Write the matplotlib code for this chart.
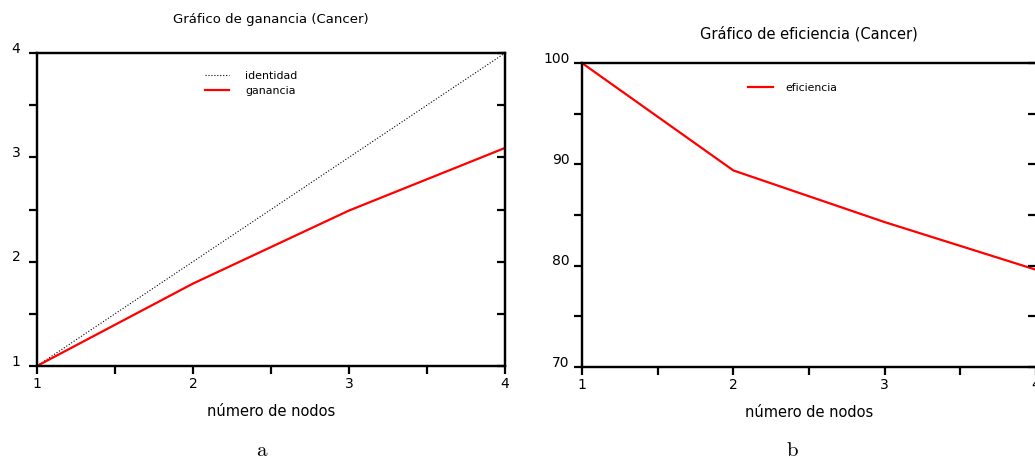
import numpy as np
import matplotlib.pyplot as plt
import matplotlib.transforms as mtransforms

plt.rcParams['mathtext.fontset'] = 'cm'

nodos = [1, 2, 3, 4]
identidad = [1, 2, 3, 4]
ganancia = [1.0, 1.79, 2.49, 3.09]
eficiencia = [100.0, 89.4, 84.3, 79.6]

fig = plt.figure(figsize=(10.35, 4.59), dpi=100)

def style(ax, ylo, yhi, ymaj, ymin, ypad):
    ax.set_xlim(1, 4)
    ax.set_ylim(ylo, yhi)
    ax.set_xticks([1, 2, 3, 4])
    ax.set_xticks([1.5, 2.5, 3.5], minor=True)
    ax.set_yticks(ymaj)
    ax.set_yticks(ymin, minor=True)
    for s in ax.spines.values():
        s.set_linewidth(1.6)
    ax.tick_params(axis='both', which='both', direction='out', length=6, width=1.6,
                   labelsize=10, top=False, right=False, pad=2)
    ax.tick_params(axis='y', pad=ypad)
    # y labels sit a bit above their ticks
    off = mtransforms.ScaledTranslation(0, 6 / 100, fig.dpi_scale_trans)
    for lab in ax.get_yticklabels():
        lab.set_transform(lab.get_transform() + off)
    ax.set_xlabel('número de nodos', fontsize=10.5, labelpad=9)
    # inward ticks on the right side
    tw = ax.twinx()
    tw.set_ylim(ylo, yhi)
    tw.set_yticks(ymaj)
    tw.set_yticks(ymin, minor=True)
    tw.tick_params(axis='y', which='both', direction='in', length=6, width=1.6,
                   labelright=False)
    for s in tw.spines.values():
        s.set_linewidth(1.6)
    return tw

# a
ax1 = fig.add_axes([0.0357, 0.2026, 0.4522, 0.6819])
style(ax1, 1, 4, [1, 2, 3, 4], [1.5, 2.5, 3.5], 6)
ax1.plot(nodos, identidad, color='black', linestyle=':', linewidth=0.8, label='identidad')
ax1.plot(nodos, ganancia, color='red', linewidth=1.6, label='ganancia')
ax1.set_title('Gráfico de ganancia (Cancer)', fontsize=9.5, pad=21.5)
ax1.legend(loc='upper left', bbox_to_anchor=(0.337, 0.975), frameon=False, fontsize=7.9,
           handlelength=2.25, handletextpad=1.45, labelspacing=0.45)

# b
ax2 = fig.add_axes([0.5623, 0.2004, 0.4387, 0.6623])
style(ax2, 70, 100, [70, 80, 90, 100], [75, 85, 95], 3)
ax2.plot(nodos, eficiencia, color='red', linewidth=1.6, label='eficiencia')
ax2.set_title('Gráfico de eficiencia (Cancer)', fontsize=10.5, pad=18)
ax2.legend(loc='upper left', bbox_to_anchor=(0.345, 0.967), frameon=False, fontsize=7.8,
           handlelength=2.25, handletextpad=1.2)

fig.text(0.253, -0.003, r'$\mathrm{a}$', fontsize=15, ha='center', va='bottom')
fig.text(0.766, -0.003, r'$\mathrm{b}$', fontsize=15, ha='center', va='bottom')

fig.savefig('out.png', dpi=100)
